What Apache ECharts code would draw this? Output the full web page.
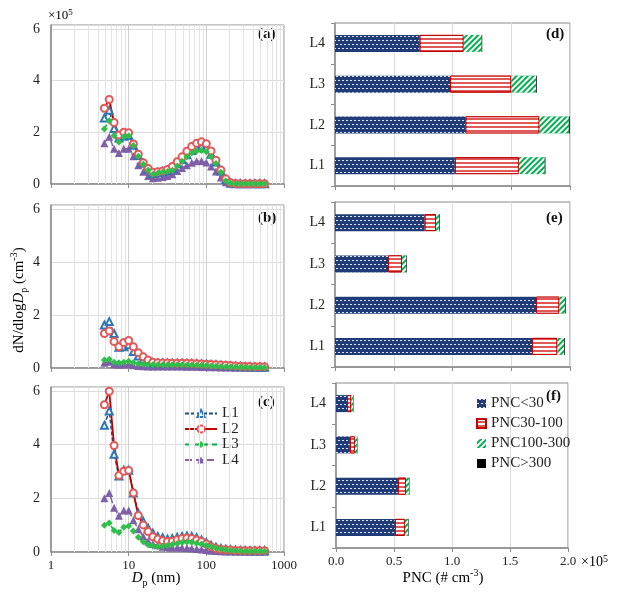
<!DOCTYPE html>
<html><head><meta charset="utf-8">
<script src="https://cdn.jsdelivr.net/npm/echarts@6/dist/echarts.min.js"></script>
<style>html,body{margin:0;padding:0;background:#fff}#c{width:625px;height:597px}</style>
</head><body><div id="c"></div>
<script>
// Particle diameter bins (nm)
const sizes = [4.87, 5.62, 6.49, 7.50, 8.66, 10.0, 11.5, 13.3, 15.4, 17.8, 20.5, 23.7, 27.4, 31.6, 36.5, 42.2, 48.7, 56.2, 64.9, 75.0, 86.6, 100, 115, 133, 154, 178, 205, 237, 274, 316, 365, 422, 487, 562];
// dN/dlogDp (x1e5 cm^-3)
const L1a = [2.55, 2.85, 2.15, 1.78, 1.85, 1.88, 1.50, 1.10, 0.80, 0.57, 0.42, 0.44, 0.48, 0.52, 0.60, 0.78, 0.95, 1.13, 1.30, 1.40, 1.45, 1.40, 1.15, 0.85, 0.50, 0.17, 0.04, 0.01, 0.01, 0.01, 0.01, 0.01, 0.01, 0.01];
const L2a = [2.93, 3.27, 2.38, 1.90, 2.00, 1.98, 1.55, 1.15, 0.82, 0.60, 0.45, 0.47, 0.50, 0.56, 0.68, 0.86, 1.05, 1.27, 1.45, 1.58, 1.63, 1.56, 1.28, 0.92, 0.54, 0.20, 0.05, 0.02, 0.01, 0.01, 0.01, 0.01, 0.01, 0.01];
const L3a = [2.13, 2.45, 1.87, 1.62, 1.83, 1.87, 1.49, 1.07, 0.76, 0.53, 0.38, 0.42, 0.46, 0.48, 0.53, 0.70, 0.88, 1.05, 1.20, 1.28, 1.30, 1.25, 1.05, 0.79, 0.45, 0.13, 0.03, 0.01, 0.01, 0.01, 0.01, 0.01, 0.01, 0.01];
const L4a = [1.58, 1.83, 1.36, 1.20, 1.36, 1.36, 1.07, 0.73, 0.47, 0.31, 0.22, 0.24, 0.27, 0.31, 0.38, 0.50, 0.62, 0.73, 0.82, 0.88, 0.89, 0.83, 0.68, 0.48, 0.25, 0.07, 0.01, 0.00, 0.00, 0.00, 0.00, 0.00, 0.00, 0.00];

const L1b = [1.62, 1.75, 1.30, 0.78, 0.80, 0.88, 0.62, 0.45, 0.32, 0.24, 0.20, 0.19, 0.19, 0.18, 0.18, 0.18, 0.18, 0.17, 0.17, 0.16, 0.15, 0.14, 0.13, 0.12, 0.10, 0.09, 0.08, 0.07, 0.06, 0.05, 0.05, 0.04, 0.04, 0.04];
const L2b = [1.30, 1.40, 1.00, 0.80, 0.96, 1.04, 0.80, 0.58, 0.42, 0.30, 0.22, 0.20, 0.19, 0.19, 0.18, 0.18, 0.18, 0.18, 0.17, 0.16, 0.15, 0.14, 0.13, 0.12, 0.11, 0.10, 0.09, 0.08, 0.07, 0.06, 0.06, 0.05, 0.05, 0.05];
const L3b = [0.30, 0.33, 0.22, 0.20, 0.22, 0.25, 0.20, 0.16, 0.14, 0.13, 0.12, 0.12, 0.12, 0.12, 0.12, 0.12, 0.12, 0.11, 0.11, 0.10, 0.10, 0.09, 0.08, 0.07, 0.06, 0.05, 0.05, 0.04, 0.03, 0.03, 0.02, 0.02, 0.02, 0.02];
const L4b = [0.20, 0.24, 0.14, 0.12, 0.13, 0.14, 0.10, 0.08, 0.07, 0.06, 0.06, 0.06, 0.06, 0.06, 0.06, 0.06, 0.06, 0.05, 0.05, 0.05, 0.04, 0.04, 0.03, 0.03, 0.02, 0.02, 0.02, 0.01, 0.01, 0.01, 0.01, 0.01, 0.01, 0.01];

const L1c = [4.72, 5.26, 3.64, 2.83, 3.05, 3.05, 2.20, 1.45, 1.14, 0.89, 0.70, 0.58, 0.53, 0.48, 0.50, 0.55, 0.58, 0.60, 0.58, 0.53, 0.45, 0.35, 0.25, 0.18, 0.13, 0.10, 0.08, 0.07, 0.06, 0.06, 0.05, 0.05, 0.05, 0.05];
const L2c = [5.49, 5.99, 3.97, 2.85, 3.01, 3.04, 2.20, 1.36, 1.01, 0.76, 0.57, 0.48, 0.42, 0.39, 0.40, 0.46, 0.50, 0.52, 0.50, 0.45, 0.39, 0.30, 0.20, 0.13, 0.10, 0.08, 0.07, 0.06, 0.06, 0.05, 0.05, 0.05, 0.05, 0.05];
const L3c = [1.00, 1.08, 0.80, 0.73, 0.92, 0.97, 0.78, 0.55, 0.38, 0.27, 0.22, 0.20, 0.21, 0.24, 0.28, 0.32, 0.35, 0.37, 0.36, 0.33, 0.30, 0.25, 0.20, 0.15, 0.11, 0.08, 0.06, 0.05, 0.04, 0.03, 0.03, 0.03, 0.03, 0.03];
const L4c = [2.00, 2.20, 1.65, 1.35, 1.55, 1.55, 1.18, 0.85, 0.58, 0.40, 0.30, 0.25, 0.20, 0.18, 0.17, 0.17, 0.16, 0.15, 0.13, 0.11, 0.09, 0.07, 0.05, 0.04, 0.03, 0.02, 0.02, 0.01, 0.01, 0.01, 0.01, 0.01, 0.01, 0.01];

// Bar panels: categories and PNC (x1e5 # cm^-3)
const sites = ['L1', 'L2', 'L3', 'L4'];
const pncLT30_d = [1.02, 1.11, 0.98, 0.72];
const pnc30_100_d = [0.545, 0.63, 0.52, 0.375];
const pnc100_300_d = [0.22, 0.25, 0.213, 0.153];
const pncGT300_d = [0.006, 0.008, 0.006, 0.005];
const pncLT30_e = [1.677, 1.711, 0.451, 0.763];
const pnc30_100_e = [0.215, 0.198, 0.119, 0.097];
const pnc100_300_e = [0.059, 0.048, 0.037, 0.028];
const pncGT300_e = [0.006, 0.006, 0.005, 0.005];
const pncLT30_f = [0.508, 0.534, 0.12, 0.096];
const pnc30_100_f = [0.086, 0.069, 0.043, 0.035];
const pnc100_300_f = [0.029, 0.026, 0.02, 0.018];
const pncGT300_f = [0.004, 0.004, 0.003, 0.003];

const lineTicks = [0, 2, 4, 6];
const minorDp = [2,3,4,5,6,7,8,9,20,30,40,50,60,70,80,90,200,300,400,500,600,700,800,900];
const FONT = 'Liberation Serif';

const lineSets = [[L1a, L2a, L3a, L4a], [L1b, L2b, L3b, L4b], [L1c, L2c, L3c, L4c]];
const barSets = [
  [pncLT30_d, pnc30_100_d, pnc100_300_d, pncGT300_d],
  [pncLT30_e, pnc30_100_e, pnc100_300_e, pncGT300_e],
  [pncLT30_f, pnc30_100_f, pnc100_300_f, pncGT300_f]
];
const barNames = ['PNC<30', 'PNC30-100', 'PNC100-300', 'PNC>300'];

const lineStyles = [
  { name: 'L1', symbol: 'emptyTriangle', symbolSize: 7, itemStyle: { color: '#2e75b6', borderWidth: 1.2 }, lineStyle: { color: '#1f4e79', width: 1.5, type: [4, 2] } },
  { name: 'L2', symbol: 'emptyCircle', symbolSize: 7, itemStyle: { color: '#e05a5a', borderWidth: 1.2 }, lineStyle: { color: '#c00000', width: 1.8, type: 'solid' } },
  { name: 'L3', symbol: 'diamond', symbolSize: 7, itemStyle: { color: '#2fbf4a' }, lineStyle: { color: '#00b050', width: 1.5, type: [5, 4] } },
  { name: 'L4', symbol: 'triangle', symbolSize: 8, itemStyle: { color: '#7f5fa8' }, lineStyle: { color: '#8064a2', width: 1.5, type: [7, 4] } }
];
const drawOrder = [3, 0, 1, 2];

const barStyles = [
  { color: '#1f3c78', decal: { symbol: 'rect', symbolSize: 1, color: 'rgba(255,255,255,0.85)', dashArrayX: [[2, 2], [0, 2, 2, 0]], dashArrayY: [1, 2.3] } },
  { color: '#e05858', borderColor: '#c00000', borderWidth: 1, decal: { symbol: 'rect', symbolSize: 1, color: '#ffffff', dashArrayX: [1, 0], dashArrayY: [1.3, 1.3] } },
  { color: '#00b050', decal: { symbol: 'rect', symbolSize: 1, color: '#ffffff', dashArrayX: [1, 0], dashArrayY: [1.5, 2], rotation: -Math.PI / 4 } },
  { color: '#000000' }
];

const lineGrids = [
  { left: 51, top: 25, width: 233, height: 159 },
  { left: 51, top: 205, width: 233, height: 163 },
  { left: 51, top: 387, width: 233, height: 165 }
];
const barGrids = [
  { left: 335, top: 23, width: 235, height: 163 },
  { left: 335, top: 202, width: 235, height: 165 },
  { left: 336, top: 383, width: 232, height: 165 }
];

const grid = [...lineGrids, ...barGrids].map(g => Object.assign({ show: true, borderColor: '#8c8c8c', borderWidth: 1, backgroundColor: 'transparent' }, g));

const xAxis = [];
const yAxis = [];
for (let p = 0; p < 3; p++) {
  xAxis.push({
    type: 'log', logBase: 10, min: 1, max: 1000, gridIndex: p,
    axisLine: { lineStyle: { color: '#8c8c8c', width: 1.5 } },
    axisTick: { show: true, length: 4, lineStyle: { color: '#8c8c8c' } },
    axisLabel: { show: p === 2, fontFamily: FONT, fontSize: 13, color: '#222', margin: 7, formatter: v => String(Math.round(v)) },
    splitLine: { show: true, lineStyle: { color: '#cfcfcf', width: 1 } }
  });
  yAxis.push({
    type: 'value', min: 0, max: 6.15, interval: 2, gridIndex: p,
    axisLine: { show: true, lineStyle: { color: '#8c8c8c', width: 1.5 } },
    axisTick: { show: false },
    axisLabel: { fontFamily: FONT, fontSize: 14, color: '#222', margin: 11,
      formatter: v => (lineTicks.indexOf(v) >= 0 ? String(v) : '') },
    splitLine: { show: true, lineStyle: { color: '#dcdcdc', width: 1 } }
  });
}
for (let q = 0; q < 3; q++) {
  xAxis.push({
    type: 'value', min: 0, max: 2, interval: 0.5, gridIndex: 3 + q,
    axisLine: { show: true, lineStyle: { color: '#8c8c8c', width: 1.5 } },
    axisTick: { show: true, length: 4, lineStyle: { color: '#8c8c8c' } },
    axisLabel: { show: q === 2, fontFamily: FONT, fontSize: 13, color: '#222', margin: 7, formatter: v => v.toFixed(1) },
    splitLine: { show: true, lineStyle: { color: '#dcdcdc', width: 1 } }
  });
  yAxis.push({
    type: 'category', data: sites, gridIndex: 3 + q,
    axisLine: { show: true, lineStyle: { color: '#8c8c8c', width: 1.5 } },
    axisTick: { show: true, length: 4, lineStyle: { color: '#8c8c8c' } },
    axisLabel: { fontFamily: FONT, fontSize: 14, color: '#222', margin: 10 },
    splitLine: { show: false }
  });
}

const series = [];
for (let p = 0; p < 3; p++) {
  series.push({
    type: 'line', name: 'grid-minor', xAxisIndex: p, yAxisIndex: p, data: [], silent: true, z: 1,
    markLine: {
      silent: true, symbol: ['none', 'none'], label: { show: false }, animation: false,
      lineStyle: { color: '#e3e3e3', width: 1, type: 'solid' },
      emphasis: { disabled: true },
      data: minorDp.map(v => ({ xAxis: v }))
    }
  });
  drawOrder.forEach(k => {
    const st = lineStyles[k];
    series.push({
      type: 'line', name: st.name, xAxisIndex: p, yAxisIndex: p, z: 10,
      symbol: st.symbol, symbolSize: st.symbolSize, showAllSymbol: true,
      itemStyle: st.itemStyle, lineStyle: st.lineStyle,
      data: sizes.map((s, i) => [s, lineSets[p][k][i]])
    });
  });
}
for (let q = 0; q < 3; q++) {
  for (let k = 0; k < 4; k++) {
    series.push({
      type: 'bar', name: barNames[k], stack: 'panel' + q, xAxisIndex: 3 + q, yAxisIndex: 3 + q,
      barWidth: 17, itemStyle: barStyles[k], data: barSets[q][k]
    });
  }
}

const panelLabel = (txt, x, y) => ({ type: 'text', left: x, top: y, style: { text: txt, font: 'bold 15px "Liberation Serif"', fill: '#111' } });

const option = {
  animation: false,
  grid, xAxis, yAxis, series,
  legend: [
    { data: ['L1', 'L2', 'L3', 'L4'], orient: 'vertical', left: 179, top: 401, itemWidth: 32, itemHeight: 9, itemGap: 0.5,
      textStyle: { fontFamily: FONT, fontSize: 15, color: '#222', lineHeight: 15 } },
    { data: barNames, orient: 'vertical', left: 471, top: 391, itemWidth: 9, itemHeight: 9, itemGap: 5, icon: 'rect',
      textStyle: { fontFamily: FONT, fontSize: 15, color: '#222' } }
  ],
  graphic: [
    panelLabel('(a)', 258, 27), panelLabel('(b)', 258, 211), panelLabel('(c)', 258, 395),
    panelLabel('(d)', 546, 27), panelLabel('(e)', 546, 211), panelLabel('(f)', 546, 389),
    { type: 'text', left: 48, top: 8, style: { text: '{a|×10}{s|5}', rich: { a: { fontFamily: FONT, fontSize: 13, color: '#222' }, s: { fontFamily: FONT, fontSize: 9, verticalAlign: 'top', color: '#222', padding: [0, 0, 6, 0] } } } },
    { type: 'text', left: 581, top: 554, style: { text: '{a|×10}{s|5}', rich: { a: { fontFamily: FONT, fontSize: 14, color: '#222' }, s: { fontFamily: FONT, fontSize: 10, verticalAlign: 'top', color: '#222', padding: [0, 0, 6, 0] } } } },
    { type: 'text', x: 19, y: 300, rotation: Math.PI / 2, style: { text: '{a|dN/dlog}{i|D}{s|p}{a| (cm}{u|-3}{a|)}', align: 'center', verticalAlign: 'middle',
      rich: { a: { fontFamily: FONT, fontSize: 15, color: '#222', lineHeight: 20 }, i: { fontFamily: FONT, fontSize: 15, fontStyle: 'italic', color: '#222', lineHeight: 20 }, s: { fontFamily: FONT, fontSize: 10, color: '#222', verticalAlign: 'bottom', lineHeight: 20, padding: [6, 0, 0, 0] }, u: { fontFamily: FONT, fontSize: 10, color: '#222', verticalAlign: 'top', lineHeight: 20, padding: [0, 0, 6, 0] } } } },
    { type: 'text', x: 156, y: 578, style: { text: '{i|D}{s|p}{a| (nm)}', align: 'center', verticalAlign: 'middle',
      rich: { a: { fontFamily: FONT, fontSize: 15, color: '#222', lineHeight: 20 }, i: { fontFamily: FONT, fontSize: 15, fontStyle: 'italic', color: '#222', lineHeight: 20 }, s: { fontFamily: FONT, fontSize: 10, color: '#222', verticalAlign: 'bottom', lineHeight: 20, padding: [6, 0, 0, 0] } } } },
    { type: 'text', x: 443, y: 578, style: { text: '{a|PNC (# cm}{u|-3}{a|)}', align: 'center', verticalAlign: 'middle',
      rich: { a: { fontFamily: FONT, fontSize: 15, color: '#222', lineHeight: 20 }, u: { fontFamily: FONT, fontSize: 10, color: '#222', verticalAlign: 'top', lineHeight: 20, padding: [0, 0, 6, 0] } } } }
  ]
};
const chart = echarts.init(document.getElementById('c'));
chart.setOption(option);
</script>
</body></html>
